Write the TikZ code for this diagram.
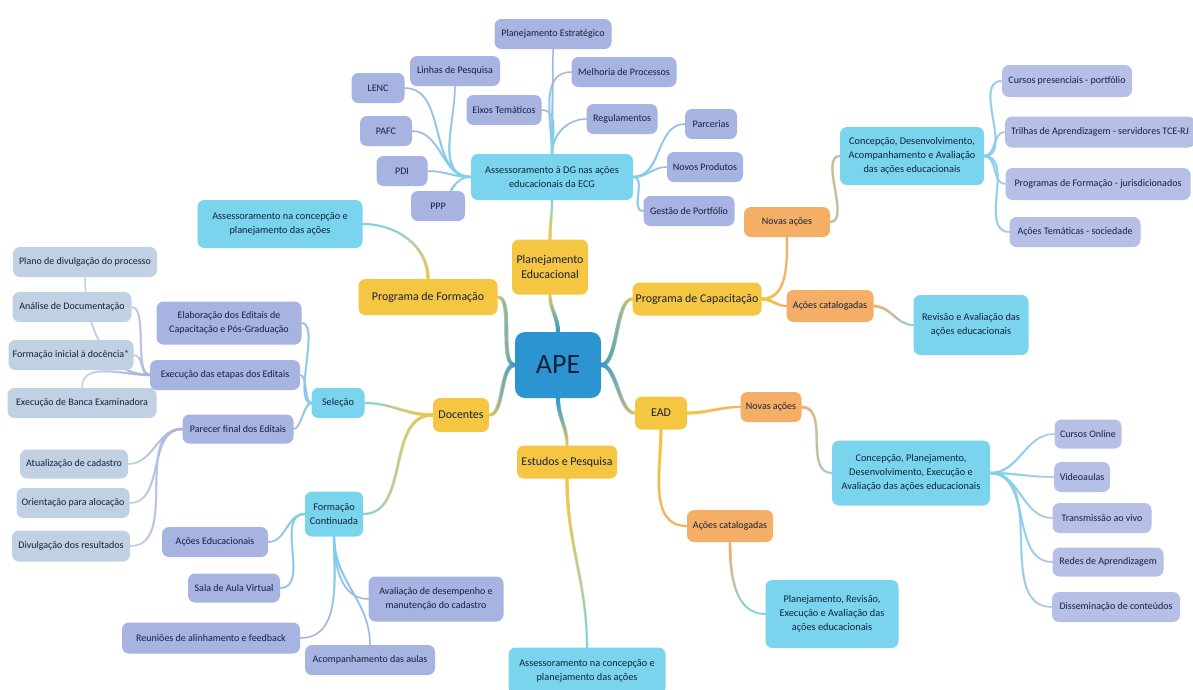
\documentclass[tikz,border=0pt]{standalone}
\usepackage{fontspec}
\setmainfont{Carlito}
\usetikzlibrary{fadings}
\definecolor{txt}{HTML}{15213D}
\definecolor{apeb}{HTML}{2B94D1}
\definecolor{yel}{HTML}{F5C641}
\definecolor{cy}{HTML}{7AD4EE}
\definecolor{lav}{HTML}{A7B3E1}
\definecolor{lavr}{HTML}{B6C0E7}
\definecolor{leafc}{HTML}{C0D1E3}
\definecolor{org}{HTML}{F4AE66}
\tikzfading[name=fR, left color=transparent!0, right color=transparent!100]
\tikzfading[name=fL, left color=transparent!100, right color=transparent!0]
\tikzfading[name=fB, bottom color=transparent!0, top color=transparent!100]
\tikzfading[name=fT, top color=transparent!0, bottom color=transparent!100]
\pgfdeclarelayer{bg}
\pgfsetlayers{bg,main}
\newcommand\lnk[5][1.5pt]{%
  \draw[line width=#1,#3,line cap=round] #5;
  \draw[line width=1.6*#1,#2,line cap=round,path fading=#4] #5;}
\tikzset{
  base/.style={rounded corners=7pt, align=center, inner sep=2pt, text=txt,
    font=\fontsize{10}{13.5}\selectfont},
  sz/.style 2 args={minimum width=#1pt, minimum height=#2pt},
  lv/.style={base, fill=lav},
  lr/.style={base, fill=lavr},
  lf/.style={base, fill=leafc},
  cn/.style={base, fill=cy, font=\fontsize{10.3}{14}\selectfont},
  yn/.style={base, fill=yel, font=\fontsize{11.9}{15}\selectfont},
  on/.style={base, fill=org},
}
\begin{document}
\begin{tikzpicture}[x=1pt,y=1pt]
\useasboundingbox (0,0) rectangle (1193,-689);
% centre and main branches
\node[base, fill=apeb, sz={86}{66}, rounded corners=10pt, font=\fontsize{28}{30}\selectfont] (ape) at (558,-365) {APE};
\node[yn, sz={76}{55}] (pe) at (550,-267) {Planejamento\\Educacional};
\node[yn, sz={139}{36}] (pf) at (428,-297) {Programa de Formação};
\node[yn, sz={129}{33}] (pc) at (697,-299) {Programa de Capacitação};
\node[yn, sz={56}{34}] (doc) at (461,-415) {Docentes};
\node[yn, sz={52}{33}] (ead) at (661,-413) {EAD};
\node[yn, sz={100}{33}] (ep) at (567,-462) {Estudos e Pesquisa};
% top cluster
\node[cn, sz={162}{46}] (dg) at (552,-177) {Assessoramento à DG nas ações\\educacionais da ECG};
\node[lv, sz={117}{30}] (pest) at (553,-34) {Planejamento Estratégico};
\node[lv, sz={90}{30}] (lp) at (455,-71) {Linhas de Pesquisa};
\node[lv, sz={53}{30}] (lenc) at (378,-88) {LENC};
\node[lv, sz={105}{30}] (mp) at (624,-72) {Melhoria de Processos};
\node[lv, sz={75}{30}] (eixo) at (504,-110) {Eixos Temáticos};
\node[lv, sz={71}{30}] (reg) at (622,-119) {Regulamentos};
\node[lv, sz={52}{30}] (pafc) at (386,-131) {PAFC};
\node[lv, sz={52}{30}] (parc) at (711,-124) {Parcerias};
\node[lv, sz={51}{30}] (pdi) at (402,-171) {PDI};
\node[lv, sz={76}{30}] (np) at (705,-167) {Novos Produtos};
\node[lv, sz={54}{30}] (ppp) at (438,-206) {PPP};
\node[lv, sz={91}{30}] (gp) at (689,-211) {Gestão de Portfólio};
% left cluster
\node[cn, sz={165}{48}] (assL) at (280,-224) {Assessoramento na concepção e\\planejamento das ações};
\node[lf, sz={144}{30}] (plano) at (85,-262) {Plano de divulgação do processo};
\node[lf, sz={119}{30}] (ana) at (72,-307) {Análise de Documentação};
\node[lf, sz={125}{30}] (fin) at (71,-355) {Formação inicial à docência*};
\node[lf, sz={149}{30}] (banca) at (82,-403) {Execução de Banca Examinadora};
\node[lv, sz={145}{43}] (elab) at (229,-323) {Elaboração dos Editais de\\Capacitação e Pós-Graduação};
\node[lv, sz={150}{30}] (exec) at (225,-375) {Execução das etapas dos Editais};
\node[lv, sz={111}{29}] (par) at (238,-429) {Parecer final dos Editais};
\node[cn, sz={53}{30}] (sel) at (338,-403) {Seleção};
\node[lf, sz={108}{29}] (atu) at (74,-464) {Atualização de cadastro};
\node[lf, sz={113}{30}] (ori) at (73,-503) {Orientação para alocação};
\node[lf, sz={118}{31}] (div) at (71,-546) {Divulgação dos resultados};
\node[cn, sz={58}{45}] (fc) at (334,-514) {Formação\\Continuada};
\node[lv, sz={106}{30}] (ae) at (215,-542) {Ações Educacionais};
\node[lv, sz={92}{29}] (sala) at (234,-588) {Sala de Aula Virtual};
\node[lv, sz={135}{45}] (aval) at (436,-599) {Avaliação de desempenho e\\manutenção do cadastro};
\node[lv, sz={178}{31}] (reun) at (211,-638) {Reuniões de alinhamento e feedback};
\node[lv, sz={130}{30}] (acomp) at (370,-660) {Acompanhamento das aulas};
\node[cn, sz={157}{47}] (assB) at (587,-671) {Assessoramento na concepção e\\planejamento das ações};
% right top cluster
\node[on, sz={86}{30}] (na1) at (787,-222) {Novas ações};
\node[cn, sz={144}{58}] (cd) at (912,-156) {Concepção, Desenvolvimento,\\Acompanhamento e Avaliação\\das ações educacionais};
\node[lr, sz={130}{32}] (cp) at (1067,-81) {Cursos presenciais - portfólio};
\node[lr, sz={190}{31}] (tri) at (1100,-132) {Trilhas de Aprendizagem - servidores TCE-RJ};
\node[lr, sz={185}{32}] (pfj) at (1098,-184) {Programas de Formação - jurisdicionados};
\node[lr, sz={131}{30}] (at) at (1075,-232) {Ações Temáticas - sociedade};
\node[on, sz={87}{32}] (ac1) at (830,-306) {Ações catalogadas};
\node[cn, sz={115}{60}] (rev) at (971,-325) {Revisão e Avaliação das\\ações educacionais};
% EAD cluster
\node[on, sz={61}{30}] (na2) at (771,-407) {Novas ações};
\node[cn, sz={158}{65}] (cpd) at (911,-473) {Concepção, Planejamento,\\Desenvolvimento, Execução e\\Avaliação das ações educacionais};
\node[lr, sz={67}{29}] (co) at (1088,-434) {Cursos Online};
\node[lr, sz={56}{30}] (vid) at (1082,-477) {Videoaulas};
\node[lr, sz={99}{30}] (tv) at (1102,-518) {Transmissão ao vivo};
\node[lr, sz={111}{29}] (ra) at (1108,-562) {Redes de Aprendizagem};
\node[lr, sz={128}{30}] (dis) at (1116,-607) {Disseminação de conteúdos};
\node[on, sz={86}{32}] (ac2) at (730,-526) {Ações catalogadas};
\node[cn, sz={133}{68}] (prea) at (832,-614) {Planejamento, Revisão,\\Execução e Avaliação das\\ações educacionais};
% connectors
\begin{pgfonlayer}{bg}
\fill[white] (0,0) rectangle (1193,-689);
\lnk[2.6pt]{apeb}{yel}{fB}{(ape.north) to[out=90,in=-90] (pe.south)}
\lnk[2.6pt]{apeb}{yel}{fL}{(ape.west) to[out=180,in=0,looseness=0.6] (pf.east)}
\lnk[2.6pt]{apeb}{yel}{fR}{(ape.east) to[out=0,in=180,looseness=0.6] (pc.west)}
\lnk[2.6pt]{apeb}{yel}{fL}{(ape.west) to[out=180,in=0,looseness=0.7] (doc.east)}
\lnk[2.6pt]{apeb}{yel}{fR}{(ape.east) to[out=0,in=180,looseness=0.7] (ead.west)}
\lnk[2.6pt]{apeb}{yel}{fT}{(ape.south) to[out=-90,in=90] (ep.north)}
\lnk[2.1pt]{yel}{cy}{fB}{(pe.north) to[out=90,in=-90] (dg.south)}
\lnk[2.1pt]{yel}{cy}{fB}{(pf.north) to[out=90,in=0] (assL.east)}
\lnk[2.1pt]{yel}{cy}{fT}{(ep.south) to[out=-90,in=90] (assB.north)}
\lnk[2.1pt]{yel}{org}{fR}{(pc.east) to[out=0,in=-90] (na1.south)}
\lnk[2.1pt]{yel}{org}{fR}{(pc.east) to[out=0,in=180] (ac1.west)}
\lnk[2.1pt]{yel}{org}{fR}{(ead.east) to[out=0,in=180] (na2.west)}
\lnk[2.1pt]{yel}{org}{fT}{(ead.south) to[out=-90,in=180] (ac2.west)}
\lnk[2.1pt]{yel}{cy}{fL}{(doc.west) to[out=180,in=0] (sel.east)}
\lnk[2.1pt]{yel}{cy}{fL}{(doc.west) to[out=180,in=0] (fc.east)}
\lnk[1.8pt]{org}{cy}{fR}{(na1.east) to[out=0,in=180,looseness=0.8] (cd.west)}
\lnk[1.8pt]{org}{cy}{fR}{(ac1.east) to[out=0,in=180] (rev.west)}
\lnk[1.8pt]{org}{cy}{fR}{(na2.east) to[out=0,in=180] (cpd.west)}
\lnk[1.8pt]{org}{cy}{fT}{(ac2.south) to[out=-90,in=180] (prea.west)}
% DG children
\foreach \n in {lenc,pafc,pdi}{\lnk{cy}{lav}{fL}{(dg.west) to[out=180,in=0] (\n.east)}}
\lnk{cy}{lav}{fB}{(dg.west) to[out=180,in=60] (ppp.50)}
\lnk{cy}{lav}{fB}{(dg.west) to[out=180,in=-90] (lp.south)}
\lnk{cy}{lav}{fB}{(dg.north) to[out=90,in=0] (eixo.east)}
\lnk{cy}{lav}{fB}{(dg.north) to[out=90,in=-90] (pest.south)}
\lnk{cy}{lav}{fB}{(dg.north) to[out=90,in=180] (mp.west)}
\lnk{cy}{lav}{fB}{(dg.north) to[out=90,in=180] (reg.west)}
\foreach \n in {parc,np,gp}{\lnk{cy}{lav}{fR}{(dg.east) to[out=0,in=180] (\n.west)}}
% right leaves
\foreach \n in {cp,tri,pfj,at}{\lnk{cy}{lavr}{fR}{(cd.east) to[out=0,in=180] (\n.west)}}
\foreach \n in {co,vid,tv,ra,dis}{\lnk{cy}{lavr}{fR}{(cpd.east) to[out=0,in=180] (\n.west)}}
% Selecao
\foreach \n in {elab,exec,par}{\lnk{cy}{lav}{fL}{(sel.west) to[out=180,in=0,looseness=0.6] (\n.east)}}
\lnk{lav}{leafc}{fL}{(exec.west) to[out=180,in=-90] (plano.south)}
\lnk{lav}{leafc}{fL}{(exec.west) to[out=180,in=0,looseness=0.6] (ana.east)}
\lnk{lav}{leafc}{fL}{(exec.west) to[out=180,in=0] (fin.east)}
\lnk{lav}{leafc}{fL}{(exec.west) to[out=180,in=90] (banca.north)}
\foreach \n in {atu,ori,div}{\lnk{lav}{leafc}{fL}{(par.west) to[out=180,in=0] (\n.east)}}
% Formacao continuada
\lnk{cy}{lav}{fL}{(fc.west) to[out=180,in=0] (ae.east)}
\lnk{cy}{lav}{fL}{(fc.west) to[out=180,in=0] (sala.east)}
\lnk{cy}{lav}{fT}{(fc.south) to[out=-90,in=0] (reun.east)}
\lnk{cy}{lav}{fT}{(fc.south) to[out=-90,in=90] (acomp.north)}
\lnk{cy}{lav}{fT}{(fc.south) to[out=-90,in=180] (aval.west)}
\end{pgfonlayer}
\end{tikzpicture}
\end{document}
